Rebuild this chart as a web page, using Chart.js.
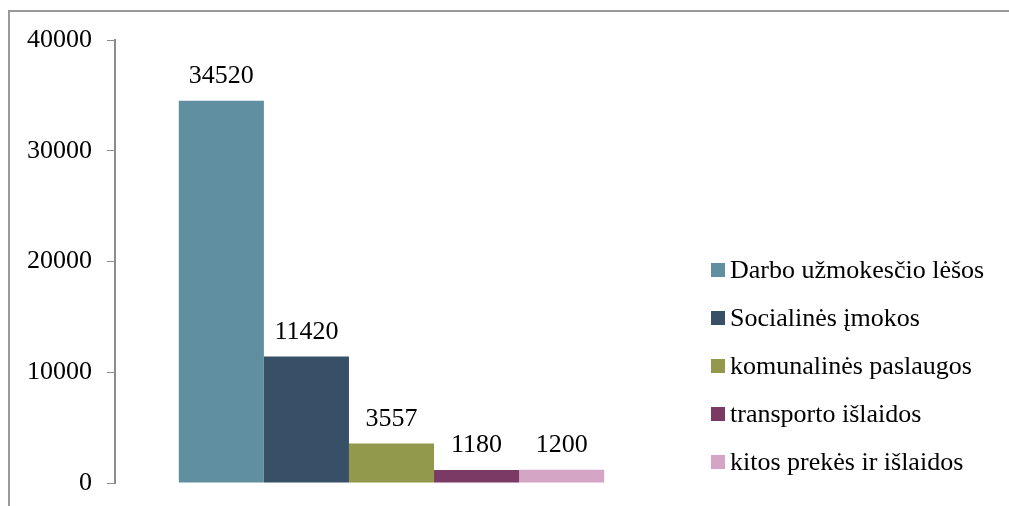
<!DOCTYPE html>
<html>
<head>
<meta charset="utf-8">
<script src="https://cdn.jsdelivr.net/npm/chart.js@4.4.1/dist/chart.umd.min.js"></script>
<style>
  html, body { margin: 0; padding: 0; background: #fff; }
  #wrap { position: relative; width: 1009px; height: 506px; overflow: hidden; }
  #frame { position: absolute; left: 8px; top: 10px; width: 1010px; height: 520px; border: 2px solid #999; box-sizing: border-box; }
  canvas { position: absolute; left: 0; top: 0; }
</style>
</head>
<body>
<div id="wrap">
  <div id="frame"></div>
  <canvas id="chart" width="1009" height="506"></canvas>
</div>
<script>
// Data
const seriesNames = ['Darbo užmokesčio lėšos', 'Socialinės įmokos', 'komunalinės paslaugos', 'transporto išlaidos', 'kitos prekės ir išlaidos'];
const seriesValues = [34520, 11420, 3557, 1180, 1200];
const seriesColors = ['#5f8fa0', '#384f68', '#92984c', '#7a3a65', '#d4a5c5'];
const yTicks = [0, 10000, 20000, 30000, 40000];

const FONT = "'Liberation Serif', 'Times New Roman', serif";
const FONT_SIZE = 26;

// values above each bar
const valueLabels = {
  id: 'valueLabels',
  afterDatasetsDraw(chart) {
    const ctx = chart.ctx;
    ctx.save();
    ctx.font = FONT_SIZE + 'px ' + FONT;
    ctx.fillStyle = '#000';
    ctx.textAlign = 'center';
    ctx.textBaseline = 'alphabetic';
    chart.data.datasets.forEach((ds, i) => {
      const meta = chart.getDatasetMeta(i);
      meta.data.forEach((bar, j) => {
        ctx.fillText(String(ds.data[j]), bar.x, bar.y - 18);
      });
    });
    ctx.restore();
  }
};

// legend drawn on the right, Excel style
const sideLegend = {
  id: 'sideLegend',
  afterDraw(chart) {
    const ctx = chart.ctx;
    ctx.save();
    ctx.font = FONT_SIZE + 'px ' + FONT;
    ctx.textBaseline = 'middle';
    ctx.textAlign = 'left';
    chart.data.datasets.forEach((ds, i) => {
      const y = 270 + i * 48;
      ctx.fillStyle = ds.backgroundColor;
      ctx.fillRect(711, y - 7, 14, 14);
      ctx.fillStyle = '#000';
      ctx.fillText(ds.label, 730, y + 1);
    });
    ctx.restore();
  }
};

const datasets = seriesNames.map((name, i) => ({
  label: name,
  data: [seriesValues[i]],
  backgroundColor: seriesColors[i],
  borderWidth: 0,
  barPercentage: 1,
  categoryPercentage: 5 / 6.5
}));

new Chart(document.getElementById('chart'), {
  type: 'bar',
  data: { labels: [''], datasets: datasets },
  options: {
    responsive: false,
    animation: false,
    layout: { padding: { left: 0, right: 341, top: 40, bottom: 23 } },
    plugins: {
      legend: { display: false },
      tooltip: { enabled: false }
    },
    scales: {
      x: { display: false },
      y: {
        min: 0,
        max: 40000,
        afterBuildTicks(axis) { axis.ticks = yTicks.map(v => ({ value: v })); },
        afterFit(axis) {
          axis.width = 115;
          axis.paddingTop = 0;
          axis.paddingBottom = 0;
        },
        ticks: {
          padding: 15,
          color: '#000',
          font: { family: FONT, size: FONT_SIZE },
          callback: v => String(v)
        },
        grid: { drawOnChartArea: false, drawTicks: true, tickLength: 8, color: '#8c8c8c', lineWidth: 1 },
        border: { display: true, color: '#8c8c8c', width: 2 }
      }
    }
  },
  plugins: [valueLabels, sideLegend]
});
</script>
</body>
</html>
